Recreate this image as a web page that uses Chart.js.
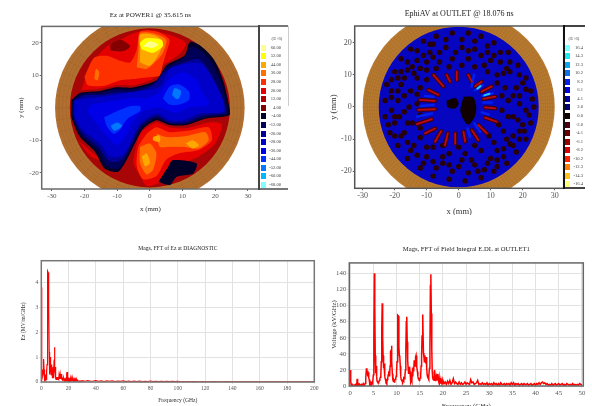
<!DOCTYPE html>
<html>
<head>
<meta charset="utf-8">
<title>Field maps and FFT</title>
<script src="https://cdn.jsdelivr.net/npm/chart.js@4/dist/chart.umd.min.js"></script>
<style>
  html, body { margin: 0; padding: 0; background: #fff; overflow: hidden; }
  #page { position: relative; width: 592px; height: 406px; overflow: hidden; filter: blur(0.65px); font-family: "Liberation Serif", serif; }
  #page canvas { position: absolute; }
  .lg-line { position: absolute; }
  .lg-swatch { position: absolute; height: 6px; }
  .lg-text { position: absolute; font-size: 4.6px; line-height: 6px; color: #444; white-space: nowrap; }
</style>
</head>
<body>
<div id="page">
  <canvas id="ezMap" width="296" height="215" style="left:0;top:0"></canvas>
  <canvas id="ephiMap" width="296" height="215" style="left:296px;top:0"></canvas>
  <canvas id="diagFft" width="330" height="171" style="left:0;top:235px"></canvas>
  <canvas id="outletFft" width="262" height="171" style="left:330px;top:235px"></canvas>
</div>
<script>
// Tick values
const mapXTicks = [-30,-20,-10,0,10,20,30];
const mapYTicks = [-20,-10,0,10,20];
const diagXTicks = [0,20,40,60,80,100,120,140,160,180,200];
const diagYTicks = [0,1,2,3,4];
const outletXTicks = [0,5,10,15,20,25,30,35,40,45,50];
const outletYTicks = [0,20,40,60,80,100,120,140];

// Legend levels
const ezLabels = ['60.00','52.00','44.00','36.00','28.00','20.00','12.00','4.00','-4.00','-12.00','-20.00','-28.00','-36.00','-44.00','-52.00','-60.00','-68.00'];
const ezColors = ['#ffff90','#ffff00','#ffa800','#ff7000','#ff3000','#e40000','#b00000','#840000','#000028','#000058','#000098','#0000c8','#0000e8','#0030ff','#0078ff','#00b8ff','#80ffff'];
const ephiLabels = ['16.4','14.3','12.3','10.2','8.2','6.1','4.1','2.0','0.0','-2.0','-4.1','-6.1','-8.2','-10.2','-12.3','-14.3','-16.4'];
const ephiColors = ['#80ffff','#20e8f0','#10a8e8','#1070e8','#0020e8','#0000d8','#000098','#000070','#100000','#480010','#680000','#980000','#d80000','#ff2000','#ff8000','#ffc020','#ffff80'];

// Ez contours, mm. Each entry: legend index and outline
const ezTopWarm = [
  [5, [[-21,5.5],[-15,6],[-10,7],[-5,7],[1,9],[4,13],[9,16.5],[11,20],[6,22.5],[0,24],[-5,23],[-9,21],[-13,19],[-16,16],[-19,11]]],
  [7, [[-12,17.5],[-8,17.5],[-6,19],[-9,21],[-12,19.5]]],
  [4, [[-20,9.5],[-19,7],[-14,6.8],[-9,8.5],[-4,9],[0,9.5],[3,10],[4,13.5],[5,17],[6,21],[2,23.5],[-3,23.5],[-4,18],[-6,14],[-9,14.5],[-13,16],[-17,15.5]]],
  [3, [[-4,12.5],[-1,12],[2,14.5],[4,17],[5,21],[1,23],[-3,23],[-3.5,18]]],
  [3, [[-17,9],[-16,8.5],[-15.5,11],[-16.5,12]]],
  [2, [[-3,14],[0,13],[3,17],[4,20.5],[1,22.5],[-3,22.5],[-3,18]]],
  [1, [[-2.5,18],[1,17],[4,19],[3.5,21],[-1,21.5],[-3,20]]],
  [0, [[-2,19],[1,18.5],[2.5,19.5],[0,20.5]]]
];
const ezBottomWarm = [
  [5, [[-3,-7.5],[2,-4.5],[6,-6],[11,-6.3],[18,-4.5],[22,-5],[20,-11],[15,-15],[10,-17],[5,-19],[3,-23],[-1,-24],[-3,-21],[-5,-17],[-4,-11]]],
  [5, [[-22,-10],[-18,-13.5],[-15,-16],[-18,-15]]],
  [4, [[-1,-8],[2,-6],[6,-7.5],[12,-7],[18,-6],[19,-10],[15,-13],[9,-14],[5,-16],[2,-21],[-2,-22],[-4,-18],[-3.5,-12]]],
  [3, [[2,-8],[5,-9],[8,-9],[12,-8.5],[17,-7.5],[18,-10],[15,-12.5],[10,-12],[6,-12],[3,-12]]],
  [3, [[-3,-12],[0,-11],[2,-14],[1,-19],[-1,-20.5],[-3,-17]]],
  [2, [[11,-11],[13,-10],[15,-11.5],[13,-12.5]]],
  [2, [[-2.5,-15],[-1,-14],[0,-17],[-1.5,-18]]],
  [2, [[1,-9],[3,-8.5],[3,-10.5],[1,-10]]],
  [8, [[2.6,-22.8],[5.6,-18.2],[7.1,-16.1],[14.3,-17.1],[13.3,-20.2],[8.2,-21.2],[6.1,-23.8]]]
];
const ezCold = [
  [8, [[-24,2.4],[-21.4,4.6],[-15.3,5.2],[-10.7,6.3],[-5.1,6.3],[2,8.5],[5.1,13.1],[10.7,16.2],[12.2,20.3],[15.3,19.3],[19.4,15.2],[22.4,8.5],[24.3,0.3],[24.3,-2.3],[17.3,-3.3],[11.2,-5.3],[6.1,-5.3],[2,-3.8],[-2,-6.4],[-4.6,-11],[-7.1,-16.1],[-9.7,-19.7],[-13.8,-18.7],[-16.8,-13.5],[-21.4,-8.9],[-24,-2.8]]],
  [9, [[-23.6,2.3],[-21,4.2],[-15,4.7],[-10.5,5.7],[-5,5.7],[1.6,7.8],[4.8,12.3],[10.4,15.4],[12.8,18.8],[15,18],[18.6,14.4],[21.8,7.8],[23.6,0.2],[23.6,-1.9],[16.8,-2.9],[11,-4.9],[6,-4.8],[2,-3.2],[-2.4,-5.9],[-5,-10.7],[-7.5,-15.7],[-9.8,-18.8],[-13.2,-17.9],[-16.2,-13],[-21,-8.4],[-23.5,-2.8]]],
  [10, [[-23.3,2.2],[-20,3.8],[-14.5,4],[-10,4.8],[-5,4.9],[1,7],[4.6,11.2],[10.4,14],[15,15],[17.5,12.2],[20.6,7],[23,0.5],[23,-1.5],[16,-2.4],[10.8,-4.4],[6,-4.4],[2,-2.5],[-2.8,-5.4],[-5.3,-10.4],[-7.9,-15.2],[-10,-16.5],[-12.8,-16.2],[-15.8,-12],[-20.8,-7.7],[-23.2,-2.8]]],
  [11, [[-23,2.4],[-15,3.4],[-5,5],[3,6.5],[6,12],[11,13.6],[16,13.6],[19.4,8.5],[22.4,2.4],[22.4,-1.2],[15.3,-1.7],[10.2,-3.8],[6,-3.8],[2,-1.7],[-3,-4.8],[-5.6,-10],[-8.2,-14.6],[-12.2,-15],[-15.3,-11],[-20.4,-6.9],[-23,-2.8]]],
  [12, [[-18,1],[-12,2],[-6,3],[-1,3],[3,5],[6,9],[10,11],[14,9],[16,5],[18,1],[12,0],[8,-1.5],[3,0],[-2,-1],[-5,-4],[-7,-8],[-10,-11.5],[-13,-9],[-17,-4],[-19,-1]]],
  [13, [[-14,-3],[-10,-1],[-6,0.5],[-3,0.5],[-3,-1],[-7,-3.5],[-9,-6.5],[-11,-8],[-13,-6]]],
  [13, [[4,3],[6,6.5],[9,7.2],[12,5],[12,2.5],[9,1],[6,1]]],
  [14, [[-12,-5.5],[-10,-4.5],[-8.5,-5.5],[-9.5,-6.5],[-11,-7]]],
  [14, [[6.8,4],[7.5,6],[9.5,5.2],[9,3],[8,2.8]]]
];

// EphiAV dark spots on the blue disk, mm
const ephiDarkSpots = [
  [3,23],[-2,23],[-7,22],[-11,20.5],[-15,18],[-18,15],[-20,11],[-22.5,7],[-23,2],[-23,-3],[-21.5,-8],[-19,-12],[-16,-16],[-12,-19],[-8,-21.5],[-3,-22.5],[2,-23],[7,-22],[11,-20],[15,-17.5],[18,-14],[21,-10],[22.5,-5],[23.5,0],[22.5,5],[21,9],[18.5,13],[15.5,17],[11,20],[7,22],
  [1,18.5],[-4,18.5],[-9,17],[-13,14.5],[-16,11.5],[-18,7],[-19,2],[-18.5,-3],[-17,-8],[-14,-12],[-10,-15.5],[-5,-17.5],[0,-18.5],[5,-18],[10,-16],[14,-13],[17,-9],[18.5,-4],[19,1],[18,6],[16,11],[13,14],[9,17],[5,18],
  [-2,15],[-6,14],[-10,11.5],[-13,9],[-15,5],[-15.5,0],[-14.5,-5],[-12,-9.5],[-8,-12.5],[-3,-14.5],[2,-14.5],[7,-13.5],[11,-11],[14,-7.5],[15.5,-3],[15.5,2],[14.5,6],[12,10],[8,13],[3,15],
  [-12,12],[-14.5,12.5],[-18,11],[-21,5],[-21,-1],[-8,19.5],[-4,21],[1,21],[5,20.5],[9,19],[13,17],[16,14],[19,10],[21,5.5],[21,-1],[20,-5.5],[19,-7.5],[16,-11.5],[12,-16.5],[8,-19.5],[3,-20.5],[-2,-20],[-7,-19],[-11,-17.5],[-15,-13.5],[-18,-9],[-20,-5],[-12,6],[-17,3.5],[-17,-1.5],[-12,-2.5],[-10,-12.5],[-5,-15.5],[4,-16.5],[12,-13.5],[15,-10],[17,-3],[17,3.5],[14,10.5],[10,14.5],[-8,15.5],[-11,16],
  [-6,17],[-10,14],[-14,10.5],[-17,9],[-19,5],[-21,3],[-20,-3],[-16,-5],[-13,1],[-13,4],[-10,8.5],[-7,12],[-3,12.5],[1,13],[5,12.5],[9,11],[12,7.5],[13.5,3.5],[13.5,-1],[12.5,-5.5],[9.5,-9],[5,-12],[0,-12.5],[-5,-12],[-12,-6.5],[14,-15.5],[17,-12],[19,-10],[20.5,-7.5],[22,-2.5],[23,2.5],[12,-18.5],[9,-17.5],[6,-20],[1,-16.5],[-3,-18],[-8,-17],[-13,-15],[-16,-11],[-20,-9],[-22,-5.5],[-16,14],[-19,9],[-21,8.5],[-13,17.5],[-9,19.5],[-1,17],[3,17.5],[7,16],[11,16],[15,12],[19,3.5],[20,7.5]
];
const ephiCenterBlobs = [
  [[1.5,3.2],[4.5,3],[5.5,0],[5,-3],[3,-5.5],[1.5,-4],[0.5,-1]],
  [[-3.8,2],[-1,2.8],[0,1],[-1.2,-0.5],[-3.5,0]]
];
// Rays around the axis: x1, y1, x2, y2 in mm
const ephiRedRays = [
  [4.1,7.9,3,10],[7.2,7.9,5.1,6.4],[10.3,6.4,7.2,4.8],[11.4,3.2,7.7,2.5],[11.4,-0.4,8.2,-0.1],[11.9,-4.6,8.2,-3.3],[8.8,-8.2,6.1,-5.6],[6.1,-10.3,4.1,-7.2],[2,-10.8,1.5,-7.7],[-1.1,-11.4,-1.1,-8.2],
  [-4.3,-11.9,-3.4,-8.2],[-7.4,-10.8,-5.5,-7.5],[-10.5,-8.2,-7.4,-6.7],[-13.1,-5.3,-8.4,-3.8],[-12.6,-0.9,-7.4,-0.7],[-12.1,2.2,-7.4,1.9],[-9.5,5.3,-6.4,3.8],[-7.9,10,-4.8,6.4],[-3.8,10,-2.7,7.9],[-0.6,11,-0.6,8.4]
];
const ephiBlueRays = [
  [4.8,10,4,6.4],[7.4,6.9,5.1,5.2],[10.5,4.3,7.4,3.4],[10.3,1.4,7.7,1.4],[9.3,-2.3,7.2,-1.7],[6.7,-7.7,4.9,-5.1],[3.5,-9.3,2.8,-6.7],[-10.5,3.4,-7.9,3.2],[-12,0.3,-7.9,0.6],[-13,-3,-8.4,-2]
];
const ephiCyanRays = [
  [9.6,4.1,8,3.6],[6.8,6.5,5.8,5.7]
];

// Ez FFT magnitude: 0 to 30 GHz every 0.2, then 30 to 200 GHz every 2
const diagLow = [
  3.8,.5,.3,.5,.45,.3,.25,.35,.5,.92,
  .5,.2,.15,.1,.2,.1,.15,.3,.1,.5,
  .4,.7,1.1,2.7,4.45,4.4,4.35,3.9,3.0,1.2,
  .6,.3,.8,.5,1.0,.6,.3,.7,.3,.45,
  .25,.15,.3,.6,.2,.15,.35,.9,1.4,.6,
  .5,.3,.6,.15,.1,.2,.1,.15,.1,.2,
  .1,.15,.12,.2,.1,.28,.12,.3,.15,.32,
  .15,.3,.12,.32,.1,.25,.12,.18,.08,.15,
  .1,.12,.08,.15,.07,.1,.08,.12,.07,.1,
  .1,.15,.08,.38,.15,.4,.1,.08,.12,.06,
  .18,.08,.12,.06,.15,.05,.1,.06,.12,.05,
  .1,.05,.12,.04,.09,.05,.13,.04,.08,.05,
  .12,.04,.07,.05,.12,.04,.06,.05,.12,.03,
  .07,.05,.1,.03,.05,.04,.06,.03,.05,.03,
  .05,.03,.04,.06,.03,.05,.03,.04,.06,.03
];
const diagHigh = [
  .05,.03,.06,.03,.04,.06,.03,.05,.02,.05,
  .03,.05,.02,.04,.03,.05,.02,.04,.02,.04,
  .02,.04,.02,.03,.02,.04,.02,.03,.02,.03,
  .02,.03,.02,.03,.02,.03,.01,.02,.01,.02,
  .01,.02,.01,.01,.02,.01,.01,.01,.02,.01,
  .01,.01,.01,.02,.01,.01,.01,.01,.01,.01,
  .01,.01,.01,.01,.01,.01,.01,.01,.01,.01,
  .01,.01,.01,.01,.01,.01,.01,.01,.01,.01,
  .01,.01,.01,.01,.01,.01
];

// Field integral FFT: 0 to 20 GHz every 0.1, then 20 to 50 GHz every 0.25
const outletLow = [
  20,6,2,1,2,1,1,2,1,1,
  1,2,1,1,2,9,3,1,2,1,
  1,2,1,1,2,1,2,1,1,2,
  1,2,3,4,10,22,14,19,12,17,
  10,8,3,5,3,4,2,4,3,5,
  14,60,140,100,38,16,25,12,6,5,
  4,6,5,7,9,11,13,30,70,103,
  60,38,22,28,20,12,8,6,7,5,
  8,10,14,17,18,12,25,43,44,50,
  30,15,8,6,7,5,7,8,9,12,
  18,30,70,88,87,50,38,36,25,12,
  8,7,6,5,7,6,10,9,12,20,
  45,80,86,55,32,22,15,20,24,18,
  8,5,8,6,16,12,23,18,32,28,
  25,36,38,30,24,18,12,9,8,7,
  9,10,13,25,38,62,89,88,41,36,
  30,38,33,28,36,22,14,11,10,8,
  12,22,46,125,139,90,46,18,10,8,
  9,7,20,14,8,6,11,7,15,8,
  7,5,10,4,6,3,8,4,5,3
];
const outletHigh = [
  7,3,5,2, 6,3,7,2, 4,9,3,5, 3,2,5,2, 4,2,3,5, 2,4,3,2, 8,4,5,2, 3,4,7,2, 3,2,4,2, 3,2,4,1,
  3,2,3,1, 4,2,3,1, 3,1,4,2, 2,3,1,3, 2,3,1,4, 2,4,1,3, 2,3,1,2, 3,1,3,2, 2,3,1,2, 3,1,2,3,
  1,3,2,4, 2,4,5,3, 4,2,3,1, 2,1,3,1, 2,3,1,2, 3,1,2,3, 1,2,1,3, 2,1,2,1, 3,1,2,1, 2,1,3,2, 1
];

const serif = '"Liberation Serif", serif';

function toPoints(list) {
  return list.map(p => ({ x: p[0], y: p[1] }));
}

// Closed filled outline, smoothed a little
function contourDataset(level, outline, colors) {
  const points = toPoints(outline);
  points.push(points[0]);
  return { data: points, showLine: true, fill: 'shape', backgroundColor: colors[level], borderColor: colors[level], borderWidth: 0, pointRadius: 0, tension: 0.25 };
}

// Segments joined by gaps so one dataset holds every ray
function rayDataset(rays, color, width) {
  const points = [];
  rays.forEach(r => {
    points.push({ x: r[0], y: r[1] }, { x: r[2], y: r[3] }, { x: NaN, y: NaN });
  });
  return { data: points, showLine: true, spanGaps: false, borderColor: color, borderWidth: width, borderCapStyle: 'round', pointRadius: 0 };
}

// Wall ring and base disk, behind the datasets
function ringPlugin(outer, inner, ringColor, diskColor, rings, spokes) {
  return {
    id: 'ring',
    beforeDraw(chart) {
      const { ctx, chartArea: a, scales: { x, y } } = chart;
      const cx = x.getPixelForValue(0), cy = y.getPixelForValue(0);
      const kx = x.getPixelForValue(1) - cx, ky = cy - y.getPixelForValue(1);
      ctx.save();
      ctx.beginPath();
      ctx.rect(a.left, a.top, a.width, a.height);
      ctx.clip();
      ctx.fillStyle = ringColor;
      ctx.beginPath();
      ctx.ellipse(cx, cy, outer * kx, outer * ky, 0, 0, Math.PI * 2);
      ctx.fill();
      ctx.strokeStyle = 'rgba(90,50,15,0.2)';
      ctx.lineWidth = 0.4;
      for (let i = 1; i < rings; i++) {
        const r = inner + (outer - inner) * i / rings;
        ctx.beginPath();
        ctx.ellipse(cx, cy, r * kx, r * ky, 0, 0, Math.PI * 2);
        ctx.stroke();
      }
      for (let i = 0; i < spokes; i++) {
        const t = i / spokes * Math.PI * 2;
        ctx.beginPath();
        ctx.moveTo(cx + Math.cos(t) * inner * kx, cy + Math.sin(t) * inner * ky);
        ctx.lineTo(cx + Math.cos(t) * outer * kx, cy + Math.sin(t) * outer * ky);
        ctx.stroke();
      }
      ctx.fillStyle = diskColor;
      ctx.beginPath();
      ctx.ellipse(cx, cy, inner * kx, inner * ky, 0, 0, Math.PI * 2);
      ctx.fill();
      ctx.restore();
    }
  };
}

function framePlugin(color, width) {
  return {
    id: 'frame',
    afterDraw(chart) {
      const { ctx, chartArea: a } = chart;
      ctx.save();
      ctx.strokeStyle = color;
      ctx.lineWidth = width;
      ctx.strokeRect(a.left, a.top, a.width, a.height);
      ctx.restore();
    }
  };
}

// Axis and layout options shared by the four panels
function panelOptions(cfg) {
  return {
    responsive: false,
    animation: false,
    layout: { padding: { right: cfg.padRight } },
    plugins: {
      legend: { display: false },
      tooltip: { enabled: false },
      title: {
        display: true, text: cfg.title, fullSize: false, color: '#222',
        font: { family: serif, size: cfg.titleSize, weight: 'normal' },
        padding: { top: cfg.titleTop, bottom: cfg.titleBottom }
      }
    },
    scales: {
      x: {
        type: 'linear', min: cfg.xMin, max: cfg.xMax,
        afterFit(scale) { scale.height = cfg.xHeight; },
        afterBuildTicks(scale) { scale.ticks = cfg.xTicks.map(v => ({ value: v })); },
        border: { display: false },
        grid: cfg.xGrid,
        ticks: { maxRotation: 0, autoSkip: false, padding: 1, color: '#555', font: { family: serif, size: cfg.tickSize } },
        title: { display: true, text: cfg.xTitle, color: '#333', font: { family: serif, size: cfg.xTitleSize }, padding: { top: 0, bottom: cfg.xTitlePad } }
      },
      y: {
        type: 'linear', min: cfg.yMin, max: cfg.yMax,
        afterFit(scale) { scale.width = cfg.yWidth; },
        afterBuildTicks(scale) { scale.ticks = cfg.yTicks.map(v => ({ value: v })); },
        border: { display: false },
        grid: cfg.yGrid,
        ticks: { autoSkip: false, padding: 1, color: '#555', font: { family: serif, size: cfg.tickSize } },
        title: { display: true, text: cfg.yTitle, color: '#333', font: { family: serif, size: cfg.yTitleSize }, padding: { top: cfg.yTitlePad, bottom: 0 } }
      }
    }
  };
}

// Colour key next to the two field maps
function buildKey(labels, colors, o) {
  const page = document.getElementById('page');
  function add(cls, css, text) {
    const el = document.createElement('div');
    el.className = cls;
    el.style.cssText = css;
    if (text) el.textContent = text;
    page.appendChild(el);
  }
  add('lg-line', `left:${o.left}px;top:${o.top - 1}px;width:${o.width}px;height:2px;background:${o.frame}`);
  add('lg-line', `left:${o.left}px;top:${o.bottom - 1}px;width:${o.width}px;height:2px;background:${o.frame}`);
  add('lg-line', `left:${o.left - 1}px;top:${o.top - 1}px;width:2px;height:${o.bottom - o.top + 2}px;background:${o.bar}`);
  add('lg-line', `left:${o.left + o.width}px;top:${o.top}px;width:1px;height:${o.edge}px;background:#ccc`);
  add('lg-text', `left:${o.titleX}px;top:${o.titleY}px;width:20px;text-align:center`, '(E+6)');
  labels.forEach((text, i) => {
    const y = o.first + i * o.step - 3;
    add('lg-swatch', `left:${o.swatchX}px;top:${y}px;width:${o.swatchW}px;background:${colors[i]}`);
    add('lg-text', `left:${o.textRight - 24}px;top:${y}px;width:24px;text-align:right`, text);
  });
}

const noGrid = { drawOnChartArea: false, tickLength: 2, color: '#666' };
const lightGrid = { color: '#e2e2e2', lineWidth: 1, tickLength: 2 };

// Ez at POWER1
const ezContours = ezTopWarm.concat(ezBottomWarm, ezCold);
const ezDatasets = ezContours.map((c, i) => {
  const ds = contourDataset(c[0], c[1], ezColors);
  ds.order = ezContours.length - i;
  return ds;
});
new Chart(document.getElementById('ezMap'), {
  type: 'scatter',
  data: { datasets: ezDatasets },
  options: panelOptions({
    title: 'Ez at POWER1 @ 35.615 ns', titleSize: 7, titleTop: 11, titleBottom: 7, padRight: 37,
    xMin: -33.1, xMax: 33.4, xTicks: mapXTicks, xGrid: noGrid, xHeight: 26, xTitle: 'x (mm)', xTitleSize: 7, xTitlePad: 2,
    yMin: -25, yMax: 25.1, yTicks: mapYTicks, yGrid: noGrid, yWidth: 41.7, yTitle: 'y (mm)', yTitleSize: 7, yTitlePad: 17,
    tickSize: 7
  }),
  plugins: [ringPlugin(29, 24.5, '#b06f30', '#a80606', 4, 48), framePlugin('#6a6a6a', 1.5)]
});

// EphiAV at OUTLET
const ephiLayers = [
  { data: toPoints(ephiDarkSpots), showLine: false, pointRadius: 2.7, pointBorderWidth: 0, pointBackgroundColor: '#280008', order: 7 },
  rayDataset(ephiRedRays, '#400010', 4.2),
  rayDataset(ephiBlueRays, '#0020f0', 2.6),
  contourDataset(8, ephiCenterBlobs[0], ephiColors),
  contourDataset(8, ephiCenterBlobs[1], ephiColors),
  rayDataset(ephiRedRays, '#c00810', 1.8),
  rayDataset(ephiCyanRays, '#20c8f8', 2)
];
ephiLayers[1].order = 6;
ephiLayers[2].order = 5;
ephiLayers[3].order = 4;
ephiLayers[4].order = 3;
ephiLayers[5].order = 2;
ephiLayers[6].order = 1;
new Chart(document.getElementById('ephiMap'), {
  type: 'scatter',
  data: { datasets: ephiLayers },
  options: panelOptions({
    title: 'EphiAV at OUTLET @ 18.076 ns', titleSize: 8, titleTop: 9, titleBottom: 7.4, padRight: 28.3,
    xMin: -32.5, xMax: 32.8, xTicks: mapXTicks, xGrid: noGrid, xHeight: 26.7, xTitle: 'x (mm)', xTitleSize: 8.5, xTitlePad: -2,
    yMin: -25.3, yMax: 25.2, yTicks: mapYTicks, yGrid: noGrid, yWidth: 58.7, yTitle: 'y (mm)', yTitleSize: 8.5, yTitlePad: 33,
    tickSize: 8
  }),
  plugins: [ringPlugin(30, 25, '#b87a30', '#0606c0', 7, 160), framePlugin('#555', 1.5)]
});

// Mags, FFT of Ez
const diagPoints = diagLow.map((v, i) => ({ x: i * 0.2, y: v })).concat(diagHigh.map((v, i) => ({ x: 30 + i * 2, y: v })));
new Chart(document.getElementById('diagFft'), {
  type: 'scatter',
  data: { datasets: [{ data: diagPoints, showLine: true, borderColor: '#ff0000', borderWidth: 1.2, pointRadius: 0 }] },
  options: panelOptions({
    title: 'Mags, FFT of Ez at DIAGNOSTIC', titleSize: 5.6, titleTop: 10, titleBottom: 9, padRight: 15.7,
    xMin: 0, xMax: 200, xTicks: diagXTicks, xGrid: lightGrid, xHeight: 24, xTitle: 'Frequency (GHz)', xTitleSize: 5.6, xTitlePad: 2,
    yMin: 0, yMax: 4.87, yTicks: diagYTicks, yGrid: lightGrid, yWidth: 41.3, yTitle: 'Ez (MV/m/GHz)', yTitleSize: 5.6, yTitlePad: 20,
    tickSize: 5.6
  }),
  plugins: [framePlugin('#777', 1.5)]
});

// Mags, FFT of Field Integral
const outletPoints = outletLow.map((v, i) => ({ x: i * 0.1, y: v })).concat(outletHigh.map((v, i) => ({ x: 20 + i * 0.25, y: v })));
new Chart(document.getElementById('outletFft'), {
  type: 'scatter',
  data: { datasets: [{ data: outletPoints, showLine: true, borderColor: '#ff0000', borderWidth: 1.5, pointRadius: 0 }] },
  options: panelOptions({
    title: 'Mags, FFT of Field Integral E.DL at OUTLET1', titleSize: 6.6, titleTop: 10, titleBottom: 10, padRight: 8.7,
    xMin: -0.2, xMax: 50.3, xTicks: outletXTicks, xGrid: lightGrid, xHeight: 20, xTitle: 'Frequency (GHz)', xTitleSize: 7, xTitlePad: -4,
    yMin: 0, yMax: 153, yTicks: outletYTicks, yGrid: lightGrid, yWidth: 19.3, yTitle: 'Voltage (kV/GHz)', yTitleSize: 6.6, yTitlePad: 0,
    tickSize: 6.8
  }),
  plugins: [framePlugin('#666', 1.5)]
});

buildKey(ezLabels, ezColors, { left: 259, width: 29, top: 26, bottom: 189, edge: 80, bar: '#444', frame: '#777', titleX: 267, titleY: 36, first: 47.7, step: 8.58, swatchX: 261, swatchW: 4.5, textRight: 281 });
buildKey(ephiLabels, ephiColors, { left: 563.7, width: 21, top: 26, bottom: 188.3, edge: 0, bar: '#111', frame: '#444', titleX: 564, titleY: 36, first: 47.7, step: 8.54, swatchX: 565, swatchW: 5, textRight: 583 });
</script>
</body>
</html>
